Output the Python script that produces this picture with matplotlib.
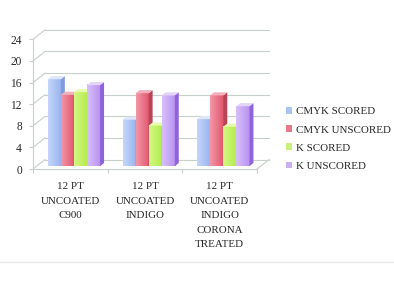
import numpy as np
import matplotlib
matplotlib.use("Agg")
import matplotlib.pyplot as plt
from matplotlib.patches import Polygon, Patch
from matplotlib.colors import LinearSegmentedColormap
from matplotlib.lines import Line2D

# data
groups = ["12 PT\nUNCOATED\nC900", "12 PT\nUNCOATED\nINDIGO", "12 PT\nUNCOATED\nINDIGO\nCORONA\nTREATED"]
series = ["CMYK SCORED", "CMYK UNSCORED", "K SCORED", "K UNSCORED"]
cmyk_scored = [16.1, 8.6, 8.7]
cmyk_unscored = [13.2, 13.5, 13.1]
k_scored = [13.7, 7.5, 7.3]
k_unscored = [15.0, 13.1, 11.1]
values = [cmyk_scored, cmyk_unscored, k_scored, k_unscored]
yticks = [0, 4, 8, 12, 16, 20, 24]

# colours: (light, dark, side, top)
palette = [
    ("#cddcfc", "#98b2ee", "#7f9be0", "#dde6fd"),
    ("#f7a3b3", "#e0546c", "#b84457", "#f3b0bc"),
    ("#d9fa8c", "#b4ea4c", "#94c838", "#e6fcae"),
    ("#ddc8fb", "#b791f0", "#8e63dc", "#e4d4fc"),
]
legend_colors = ["#a9c3f3", "#e9788b", "#c8f07a", "#c9aef2"]
grid_color = "#c8cfc9"
text_color = "#262626"

plt.rcParams["font.family"] = ["Liberation Serif", "DejaVu Serif"]
plt.rcParams["font.size"] = 7.9

fig = plt.figure(figsize=(3.94, 2.96), dpi=100)

# pixel layout of the front of the plot
px_unit_x = 74.7  # px per category
px_unit_y = 5.4   # px per value unit
x_max = 3.2
y_max = 26
ax = fig.add_axes([33 / 394, 127 / 296, x_max * px_unit_x / 394, y_max * px_unit_y / 296])
ax.set_xlim(0, x_max)
ax.set_ylim(0, y_max)

# depth offset of the back wall in data units
DX = 12 / px_unit_x
DY = 9.5 / px_unit_y
n = len(groups)

# back wall gridlines + left wall diagonals
for v in yticks:
    ax.plot([DX, n + DX], [v + DY, v + DY], color=grid_color, lw=0.8, zorder=1)
    ax.plot([0, DX], [v, v + DY], color=grid_color, lw=0.8, zorder=1)
# floor right edge
ax.plot([n, n + DX], [0, DY], color=grid_color, lw=0.8, zorder=1)

# bars
bw = 0.175
start = 0.15
f0, f1 = 0.3, 0.63  # bar depth span (fraction of floor depth)
bx, by = (f1 - f0) * DX, (f1 - f0) * DY
z = 2
for g in range(n):
    for s, vals in enumerate(values):
        v = vals[g]
        light, dark, side, top = palette[s]
        x0 = g + start + s * bw + f0 * DX
        x1 = x0 + bw
        y0 = f0 * DY
        y1 = v + f0 * DY
        cmap = LinearSegmentedColormap.from_list("g", [light, dark])
        grad = np.linspace(0.15, 1, 32).reshape(1, -1)
        ax.imshow(grad, cmap=cmap, vmin=0, vmax=1, extent=[x0, x1, y0, y1],
                  aspect="auto", zorder=z, interpolation="bilinear")
        ax.add_patch(Polygon([(x1, y0), (x1 + bx, y0 + by), (x1 + bx, y1 + by), (x1, y1)],
                             closed=True, facecolor=side, edgecolor="none", zorder=z))
        ax.add_patch(Polygon([(x0, y1), (x1, y1), (x1 + bx, y1 + by), (x0 + bx, y1 + by)],
                             closed=True, facecolor=top, edgecolor="none", zorder=z))
        z += 1

# axes styling
for sp in ["top", "right"]:
    ax.spines[sp].set_visible(False)
ax.spines["left"].set_bounds(0, 24)
ax.spines["bottom"].set_bounds(0, n)
ax.spines["left"].set_color(grid_color)
ax.spines["bottom"].set_color(grid_color)
ax.spines["left"].set_linewidth(0.8)
ax.spines["bottom"].set_linewidth(0.8)
ax.set_yticks(yticks)
ax.tick_params(axis="y", length=3, color=grid_color, pad=5, labelcolor=text_color,
               labelsize=8.3)
ax.set_xticks(range(n + 1))
ax.set_xticklabels([])
ax.tick_params(axis="x", which="major", length=3, color=grid_color)
ax.set_xticks([g + 0.5 for g in range(n)], groups, minor=True)
ax.tick_params(axis="x", which="minor", length=0, pad=9.5, labelcolor=text_color)
for lbl in ax.get_xticklabels(minor=True):
    lbl.set_linespacing(1.78)
    lbl.set_verticalalignment("top")
    lbl.set_horizontalalignment("center")

# legend
handles = [Patch(facecolor=c, edgecolor="none") for c in legend_colors]
fig.legend(handles, series, loc="center left", bbox_to_anchor=(286 / 394, 1 - 139 / 296),
           frameon=False, handlelength=0.55, handleheight=0.55, handletextpad=0.35,
           labelspacing=0.82, borderpad=0, borderaxespad=0, labelcolor=text_color)

# faint separator line under the chart
fig.add_artist(Line2D([0, 1], [1 - 262 / 296, 1 - 262 / 296], color="#e8e8e8", lw=1))

fig.savefig("out.png", dpi=100)
